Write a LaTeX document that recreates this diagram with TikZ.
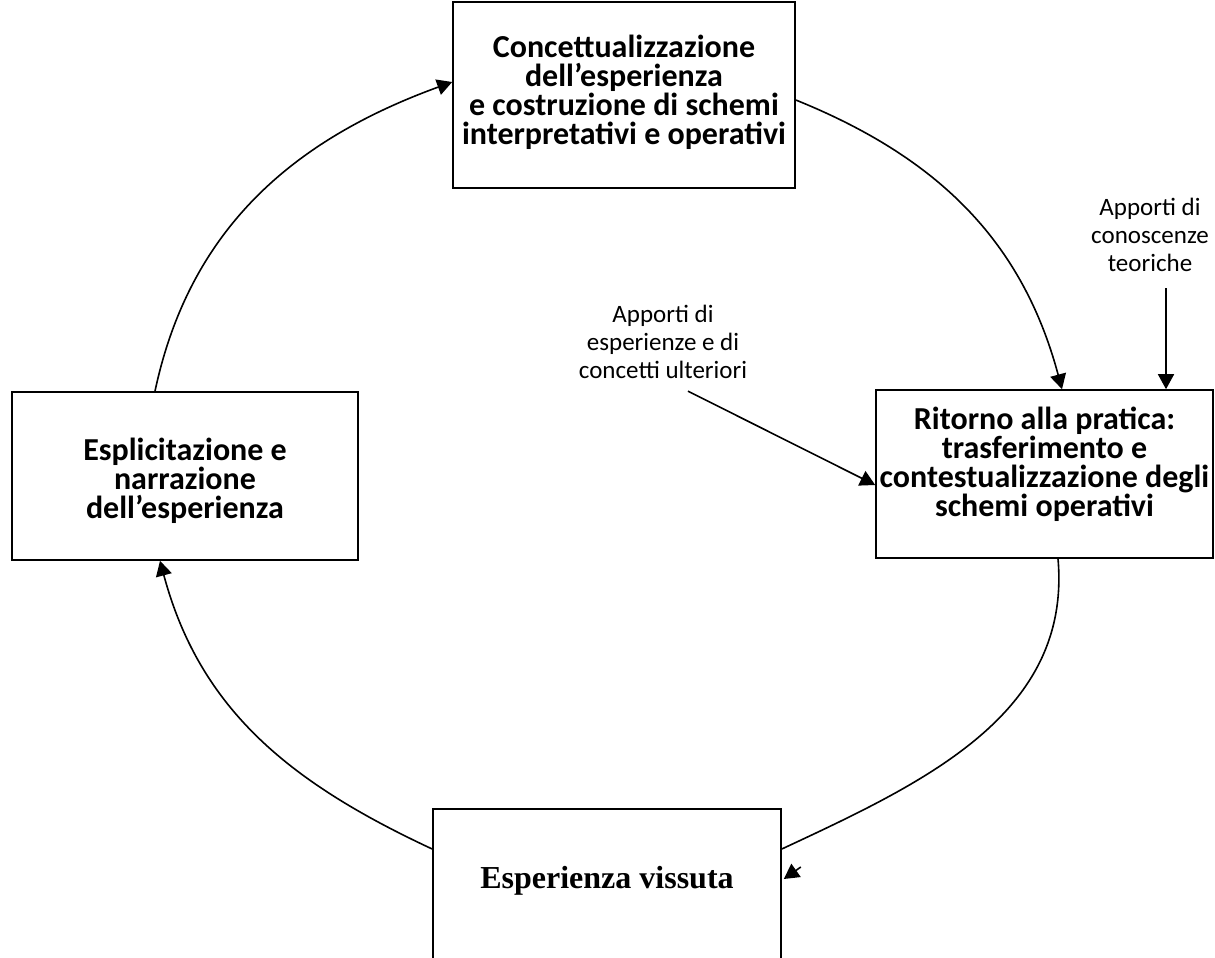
\documentclass[tikz,border=0pt]{standalone}
\usepackage{fontspec}
\setmainfont{Carlito}
\newfontfamily\serifbold{Liberation Serif}
\usetikzlibrary{positioning,arrows.meta}

\begin{document}
\begin{tikzpicture}[x=0.5pt,y=-0.5pt,
  box/.style={draw,line width=0.8pt,inner sep=0pt},
  boxtext/.style={align=center,inner sep=0pt,font=\fontsize{16}{14.5}\selectfont\bfseries},
  note/.style={align=center,inner sep=0pt,font=\fontsize{12.5}{14}\selectfont},
  flow/.style={line width=0.8pt,-{Triangle[length=7.5pt,width=8pt]}}]
 \useasboundingbox (0,0) rectangle (1215,958);
 \clip (0,0) rectangle (1215,958);

    % Draw the four boxes of the cycle
    \node[box,minimum width=171pt,minimum height=93pt] (concett) at (624,95) {};
    \node[box,minimum width=173pt,minimum height=84pt] (esplic) at (185,476) {};
    \node[box,minimum width=168.5pt,minimum height=84pt] (ritorno) at (1044.5,474) {};
    \node[box,minimum width=174pt,minimum height=110pt,anchor=north] (vissuta) at (607,808) {};

    \node[boxtext,yshift=1.5pt] (concettTxt) at (concett)
        {Concettualizzazione\\dell'esperienza\\e costruzione di schemi\\interpretativi e operativi};
    \node[boxtext,yshift=-2.5pt] (esplicTxt) at (esplic)
        {Esplicitazione e\\narrazione\\dell'esperienza};
    \node[boxtext,yshift=5pt] (ritornoTxt) at (ritorno)
        {Ritorno alla pratica:\\trasferimento e\\contestualizzazione degli\\schemi operativi};
    \node[below=29pt of vissuta.north,inner sep=0pt,font=\serifbold\fontsize{16}{19}\selectfont\bfseries] (vissutaTxt)
        {Esperienza vissuta};

    % Side notes
    \node[note] (esperienze) at (663,342) {Apporti di\\esperienze e di\\concetti ulteriori};
    \node[note] (teoriche) at (1150,235) {Apporti di\\conoscenze\\teoriche};

    % Draw the cycle
    \draw[flow] ([xshift=-15pt]esplic.north) to[out=78,in=200] ([yshift=6.5pt]concett.west);
    \draw[flow] ([yshift=-2.5pt]concett.east) to[out=-22,in=105] ([xshift=8.75pt]ritorno.north);
    \draw[line width=0.8pt] ([xshift=6.75pt]ritorno.south) to[out=-85,in=25] ([yshift=-20.5pt]vissuta.north east);
    \draw[flow] ([xshift=9.5pt,yshift=-29.5pt]vissuta.north east) -- ([xshift=1pt,yshift=-35.5pt]vissuta.north east);
    \draw[flow] ([yshift=-20.5pt]vissuta.north west) to[out=155,in=-75] ([xshift=-12.5pt]esplic.south);

    % Inputs
    \draw[flow] ([xshift=12.5pt,yshift=-6pt]esperienze.south) -- ([yshift=-5.5pt]ritorno.west);
    \draw[flow] ([xshift=8pt,yshift=-8pt]teoriche.south) coordinate (teoStart) -- (teoStart |- ritorno.north);

\end{tikzpicture}
\end{document}
